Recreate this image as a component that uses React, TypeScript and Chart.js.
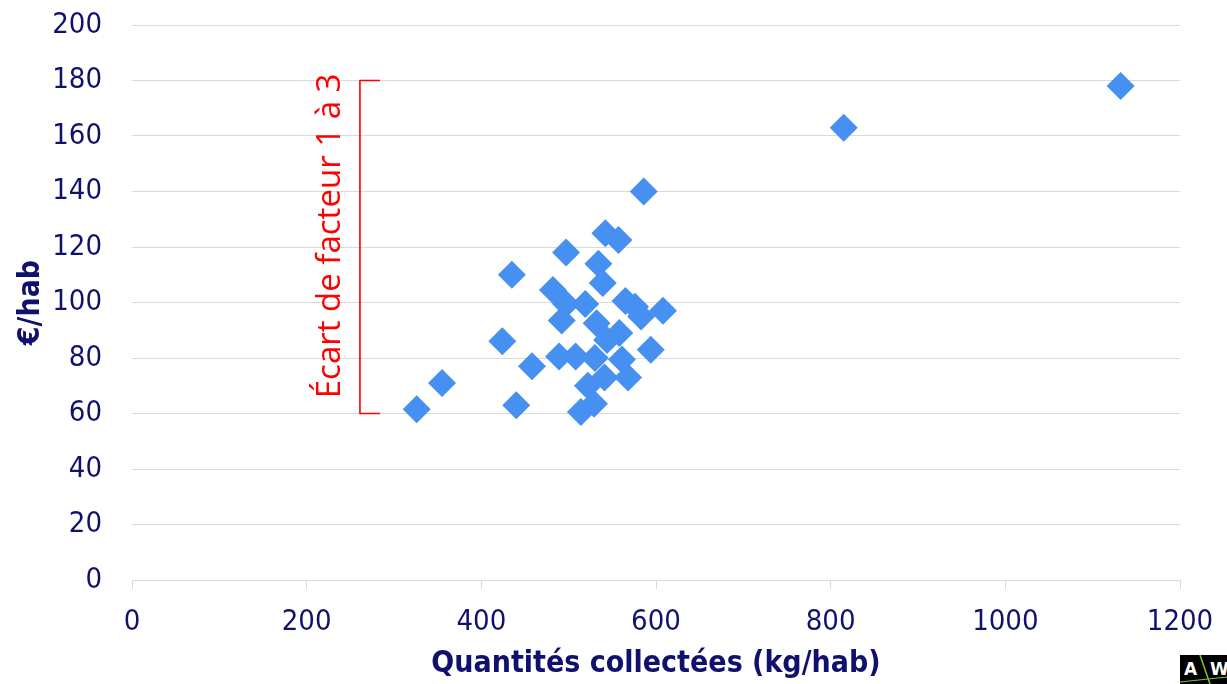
import React, { useEffect, useRef } from 'react';
import { Chart, registerables } from 'chart.js';

Chart.register(...registerables);

// Quantités collectées (kg/hab)
const quantities = [
  1132, 815, 586, 542, 557, 497, 534, 435, 482, 539,
  497, 519, 565, 576, 608, 583, 492, 532, 558, 544,
  424, 594, 489, 508, 530, 561, 458, 541, 568, 522,
  355, 326, 440, 529, 514,
];
// €/hab
const costs = [
  178, 163, 140, 125, 122.5, 118, 114, 110, 104.5, 107,
  99.5, 99.5, 100.5, 98.5, 97, 95, 93.5, 92.5, 89, 86.5,
  86, 83, 80.5, 80.5, 80, 79.5, 77, 73, 73, 70,
  71, 61.5, 63, 63.5, 60.5,
];

const xTickValues = [0, 200, 400, 600, 800, 1000, 1200];
const yTickValues = [0, 20, 40, 60, 80, 100, 120, 140, 160, 180, 200];

const xTitle = 'Quantités collectées (kg/hab)';
const yTitle = '€/hab';
const annotationText = 'Écart de facteur 1 à 3';
const bracketYRange = [60, 180];
const bracketXRange = [261, 284];
const annotationAt = [227, 124];

const NAVY = '#10106e';
const GRID = '#d9d9d9';
const RED = '#ff0000';
const POINT = '#4690F2';

const bracketPlugin = {
  id: 'bracketAnnotation',
  afterDatasetsDraw(chart: any) {
    const { ctx, scales } = chart;
    const xs = scales.x;
    const ys = scales.y;
    const x0 = xs.getPixelForValue(bracketXRange[0]);
    const x1 = xs.getPixelForValue(bracketXRange[1]);
    const yTop = ys.getPixelForValue(bracketYRange[1]);
    const yBot = ys.getPixelForValue(bracketYRange[0]);
    ctx.save();
    ctx.strokeStyle = RED;
    ctx.lineWidth = 1.6;
    ctx.lineJoin = 'round';
    ctx.beginPath();
    ctx.moveTo(x1, yTop);
    ctx.lineTo(x0, yTop);
    ctx.lineTo(x0, yBot);
    ctx.lineTo(x1, yBot);
    ctx.stroke();
    const tx = xs.getPixelForValue(annotationAt[0]);
    const ty = ys.getPixelForValue(annotationAt[1]);
    ctx.translate(tx, ty);
    ctx.rotate(-Math.PI / 2);
    ctx.fillStyle = RED;
    ctx.font = '33px "Open Sans"';
    ctx.textAlign = 'center';
    ctx.textBaseline = 'middle';
    ctx.fillText(annotationText, 0, 0);
    ctx.restore();
  },
};

export default function App() {
  const canvasRef = useRef<HTMLCanvasElement | null>(null);

  useEffect(() => {
    if (!canvasRef.current) return;
    const data = quantities.map((q, i) => ({ x: q, y: costs[i] }));
    const chart = new Chart(canvasRef.current, {
      type: 'scatter',
      data: {
        datasets: [
          {
            data,
            pointStyle: 'rectRot',
            pointRadius: 14,
            pointHoverRadius: 14,
            backgroundColor: POINT,
            borderWidth: 0,
          },
        ],
      },
      options: {
        animation: false,
        responsive: false,
        devicePixelRatio: 1,
        events: [],
        layout: { padding: { top: 25, right: 47, bottom: 0, left: 0 } },
        plugins: { legend: { display: false }, tooltip: { enabled: false } },
        scales: {
          x: {
            type: 'linear',
            min: 0,
            max: 1200,
            afterBuildTicks: (scale: any) => {
              scale.ticks = xTickValues.map((v) => ({ value: v }));
            },
            afterFit: (scale: any) => {
              scale.height = 104;
              scale.paddingLeft = 0;
              scale.paddingRight = 0;
            },
            ticks: {
              color: NAVY,
              font: { family: '"DejaVu Sans Condensed"', size: 29 },
              padding: 16,
              maxRotation: 0,
              callback: (v: any) => String(v),
            },
            grid: {
              display: true,
              drawOnChartArea: false,
              drawTicks: true,
              tickLength: 9,
              color: GRID,
            },
            border: { display: true, color: GRID, width: 1 },
            title: {
              display: true,
              text: xTitle,
              color: NAVY,
              font: { family: '"DejaVu Sans Condensed"', size: 30, weight: 'bold', lineHeight: 1 },
              padding: { top: 0, bottom: 5 },
            },
          },
          y: {
            type: 'linear',
            min: 0,
            max: 200,
            afterBuildTicks: (scale: any) => {
              scale.ticks = yTickValues.map((v) => ({ value: v }));
            },
            afterFit: (scale: any) => {
              scale.width = 132;
              scale.paddingTop = 0;
              scale.paddingBottom = 0;
            },
            ticks: {
              color: NAVY,
              font: { family: '"DejaVu Sans Condensed"', size: 29 },
              padding: 30,
              callback: (v: any) => String(v),
            },
            grid: { color: GRID, drawTicks: false, lineWidth: 1 },
            border: { display: false },
            title: {
              display: true,
              text: yTitle,
              color: NAVY,
              font: { family: '"DejaVu Sans Condensed"', size: 30, weight: 'bold', lineHeight: 1 },
              padding: { top: 16, bottom: 0 },
            },
          },
        },
      },
      plugins: [bracketPlugin],
    });
    return () => chart.destroy();
  }, []);

  return (
    <div style={{ position: 'absolute', left: 0, top: 0, width: 1227, height: 684, background: '#fff' }}>
      <canvas ref={canvasRef} width={1227} height={684} style={{ display: 'block' }} />
      <div style={{ position: 'absolute', left: 1180, top: 655, width: 47, height: 29, background: '#000', overflow: 'hidden' }}>
        <svg width={47} height={29}>
          <line x1={20} y1={0} x2={30} y2={29} stroke="#7cc242" strokeWidth={1.5} />
          <line x1={0} y1={27} x2={47} y2={22} stroke="#7cc242" strokeWidth={1} />
          <text x={4} y={20} fill="#fff" fontFamily="DejaVu Sans" fontWeight="bold" fontSize={17}>A</text>
          <text x={30} y={20} fill="#fff" fontFamily="DejaVu Sans" fontWeight="bold" fontSize={17}>W</text>
        </svg>
      </div>
    </div>
  );
}
